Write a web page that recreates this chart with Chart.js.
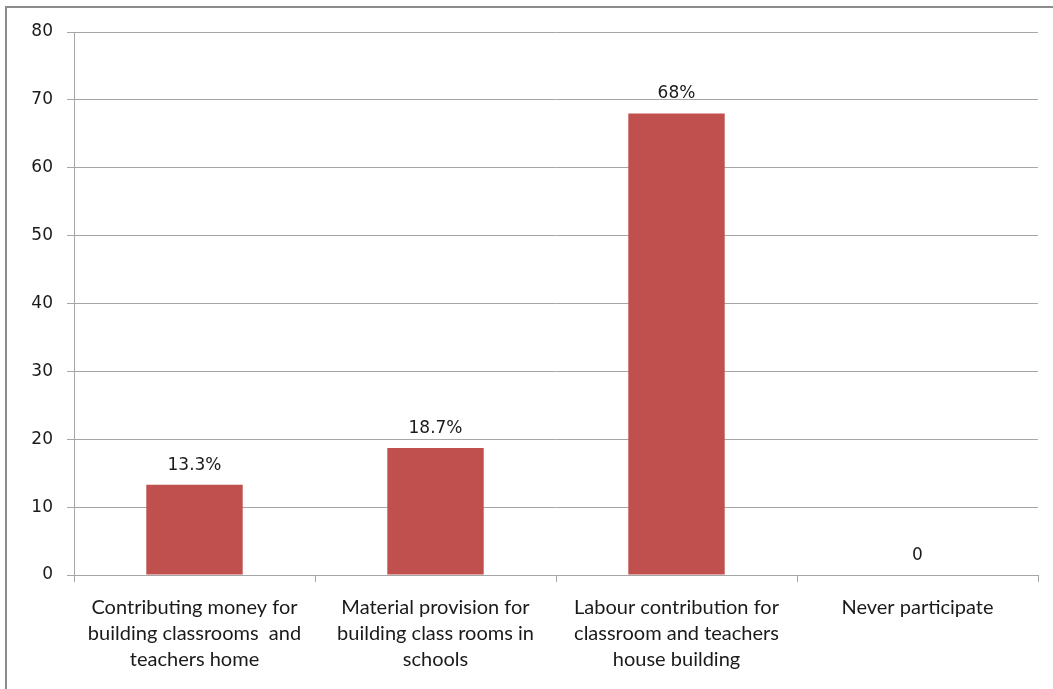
<!DOCTYPE html>
<html>
<head>
<meta charset="utf-8">
<script src="https://cdn.jsdelivr.net/npm/chart.js@4"></script>
<style>
  html, body { margin: 0; padding: 0; background: #fff; }
  #wrap { width: 1053px; height: 689px; position: relative; }
</style>
</head>
<body>
<div id="wrap"><canvas id="participation-chart"></canvas></div>
<script>
// Community participation in school building
var categories = [
  ['Contributing money for', 'building classrooms  and', 'teachers home'],
  ['Material provision for', 'building class rooms in', 'schools'],
  ['Labour contribution for', 'classroom and teachers', 'house building'],
  ['Never participate']
];
var values = [13.3, 18.7, 68, 0];
var valueLabels = ['13.3%', '18.7%', '68%', '0'];
var yTicks = [0, 10, 20, 30, 40, 50, 60, 70, 80];

var gridColor = '#a6a6a6';

// value text above each bar
var barLabels = {
  id: 'barLabels',
  afterDatasetsDraw: function(chart) {
    var ctx = chart.ctx;
    var meta = chart.getDatasetMeta(0);
    ctx.save();
    ctx.font = '17px "DejaVu Sans"';
    ctx.fillStyle = '#1a1a1a';
    ctx.textAlign = 'center';
    ctx.textBaseline = 'bottom';
    meta.data.forEach(function(bar, i) {
      ctx.fillText(valueLabels[i], bar.x, bar.y - 11);
    });
    ctx.restore();
  }
};

// outer frame (left and top edges)
var frame = {
  id: 'frame',
  beforeDraw: function(chart) {
    var ctx = chart.ctx;
    ctx.save();
    ctx.strokeStyle = '#8c8c8c';
    ctx.lineWidth = 2;
    ctx.beginPath();
    ctx.moveTo(6, chart.height);
    ctx.lineTo(6, 7);
    ctx.lineTo(chart.width, 7);
    ctx.stroke();
    ctx.restore();
  }
};

var ctx = document.getElementById('participation-chart').getContext('2d');
var myChart = new Chart(ctx, {
  type: 'bar',
  data: {
    labels: categories,
    datasets: [{
      data: values,
      backgroundColor: '#c0504d',
      borderWidth: 0,
      categoryPercentage: 1,
      barPercentage: 0.4
    }]
  },
  options: {
    responsive: true,
    maintainAspectRatio: false,
    animation: false,
    layout: { padding: { left: 0, top: 32, right: 15, bottom: 0 } },
    plugins: {
      legend: { display: false },
      tooltip: { enabled: false }
    },
    scales: {
      x: {
        afterFit: function(scale) { scale.height = 114; },
        grid: {
          offset: true,
          drawOnChartArea: false,
          drawTicks: true,
          tickLength: 7,
          color: gridColor
        },
        border: { color: gridColor, width: 1 },
        ticks: {
          padding: 13,
          maxRotation: 0,
          autoSkip: false,
          color: '#1a1a1a',
          font: { family: 'Lato', size: 20, lineHeight: '26px' }
        }
      },
      y: {
        min: 0,
        max: 80,
        afterFit: function(scale) { scale.width = 74; },
        afterBuildTicks: function(scale) {
          scale.ticks = yTicks.map(function(v) { return { value: v }; });
        },
        grid: {
          color: gridColor,
          tickLength: 7
        },
        border: { color: gridColor, width: 1 },
        ticks: {
          padding: 14,
          color: '#1a1a1a',
          font: { family: 'DejaVu Sans', size: 17 }
        }
      }
    }
  },
  plugins: [frame, barLabels]
});
</script>
</body>
</html>
